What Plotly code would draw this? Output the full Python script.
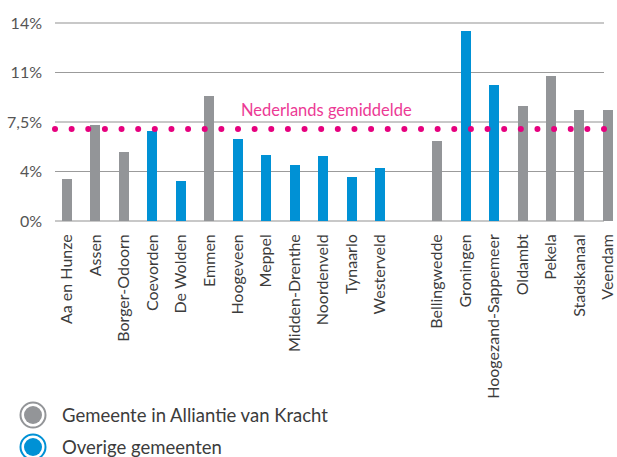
import numpy as np
import plotly.graph_objects as go

# ---- data ----
gemeenten = ["Aa en Hunze", "Assen", "Borger-Odoorn", "Coevorden", "De Wolden", "Emmen",
             "Hoogeveen", "Meppel", "Midden-Drenthe", "Noordenveld", "Tynaarlo", "Westerveld",
             "Bellingwedde", "Groningen", "Hoogezand-Sappemeer", "Oldambt", "Pekela",
             "Stadskanaal", "Veendam"]
waarden = [3.0, 6.8, 4.9, 6.35, 2.85, 8.85, 5.8, 4.65, 3.95, 4.6, 3.1, 3.75,
           5.65, 13.45, 9.6, 8.15, 10.25, 7.85, 7.85]
alliantie = [True, True, True, False, False, True, False, False, False, False, False, False,
             True, False, False, True, True, True, True]
provincie = ["Drenthe"] * 12 + ["Groningen"] * 7
nl_gemiddelde = 6.5
y_tickvals = [0, 3.5, 7, 10.5, 14]
y_ticktext = ["0%", "4%", "7,5%", "11%", "14%"]
legend_labels = ["Gemeente in Alliantie van Kracht", "Overige gemeenten"]

GREY = "#939598"
BLUE = "#0091d5"
PINK = "#e6007e"
FONT = "Lato, 'Noto Sans', sans-serif"

# positions: leave one empty slot between provinces
pos = [i + (1 if provincie[i] == "Groningen" else 0) for i in range(len(gemeenten))]

W, H = 617, 457
ML, MT, MB = 55, 22, 235
PW = W - ML
PH = H - MT - MB
spacing = 28.47
x0 = -(67 - ML) / spacing
x1 = x0 + PW / spacing

fig = go.Figure()
for flag, color, name in [(True, GREY, legend_labels[0]), (False, BLUE, legend_labels[1])]:
    xs = [p for p, a in zip(pos, alliantie) if a == flag]
    ys = [v for v, a in zip(waarden, alliantie) if a == flag]
    fig.add_trace(go.Bar(x=xs, y=ys, width=0.35, marker=dict(color=color, line=dict(width=0)),
                         name=name, showlegend=False))

# dotted national average line
grid_right_px = 604
x_end = x0 + (grid_right_px - ML) / spacing
dots_x = np.linspace(x0, x_end, 34)
fig.add_trace(go.Scatter(x=dots_x, y=[nl_gemiddelde] * len(dots_x), mode="markers",
                         marker=dict(color=PINK, size=6, line=dict(width=0)),
                         cliponaxis=False, showlegend=False, hoverinfo="skip"))

shapes = []
grid_frac = (grid_right_px - ML) / PW
for i, v in enumerate(y_tickvals):
    light = i % 2 == 0
    shapes.append(dict(type="line", xref="paper", yref="y", x0=0, x1=grid_frac, y0=v, y1=v,
                       line=dict(color="#c8c8c8" if light else "#9b9b9b", width=2 if light else 1),
                       layer="below"))

annotations = [dict(text="Nederlands gemiddelde", x=(326 - ML) / PW, xref="paper",
                    y=(222 - 110) / PH, yref="paper", showarrow=False,
                    xanchor="center", yanchor="middle",
                    font=dict(family=FONT, size=16.5, color="#ec3a95"))]

# manual legend
for k, (label, color) in enumerate(zip(legend_labels, [GREY, BLUE])):
    cy = (222 - (415 + 32 * k)) / PH
    cx = (33 - ML) / PW
    shapes.append(dict(type="circle", xref="paper", yref="paper", xsizemode="pixel",
                       ysizemode="pixel", xanchor=cx, yanchor=cy, x0=-12.5, x1=12.5,
                       y0=-12.5, y1=12.5, line=dict(color=color, width=2),
                       fillcolor="rgba(0,0,0,0)"))
    shapes.append(dict(type="circle", xref="paper", yref="paper", xsizemode="pixel",
                       ysizemode="pixel", xanchor=cx, yanchor=cy, x0=-9, x1=9,
                       y0=-9, y1=9, line=dict(width=0), fillcolor=color))
    annotations.append(dict(text=label, xref="paper", yref="paper", x=(60 - ML) / PW, y=cy,
                            xanchor="left", yanchor="middle", showarrow=False,
                            font=dict(family=FONT, size=18.5, color="#3c3c3c")))

fig.update_layout(
    width=W, height=H,
    margin=dict(l=ML, r=0, t=MT, b=MB, pad=0, autoexpand=False),
    paper_bgcolor="white", plot_bgcolor="white",
    font=dict(family=FONT),
    bargap=0,
    shapes=shapes, annotations=annotations,
    xaxis=dict(range=[x0, x1], tickmode="array", tickvals=pos, ticktext=gemeenten,
               tickangle=-90, showgrid=False, zeroline=False, showline=False, ticks="",
               automargin=False,
               ticklabelstandoff=8, tickfont=dict(family=FONT, size=16, color="#3c3c3c")),
    yaxis=dict(range=[-0.07, 14.07], tickmode="array", tickvals=y_tickvals, ticktext=y_ticktext,
               showgrid=False, zeroline=False, showline=False, ticks="", automargin=False,
               ticklabelstandoff=12, tickfont=dict(family=FONT, size=16, color="#555555")),
)

fig.write_html("out.html", config={"displayModeBar": False},
               post_script="document.body.style.margin='0';document.body.style.overflow='hidden';")
